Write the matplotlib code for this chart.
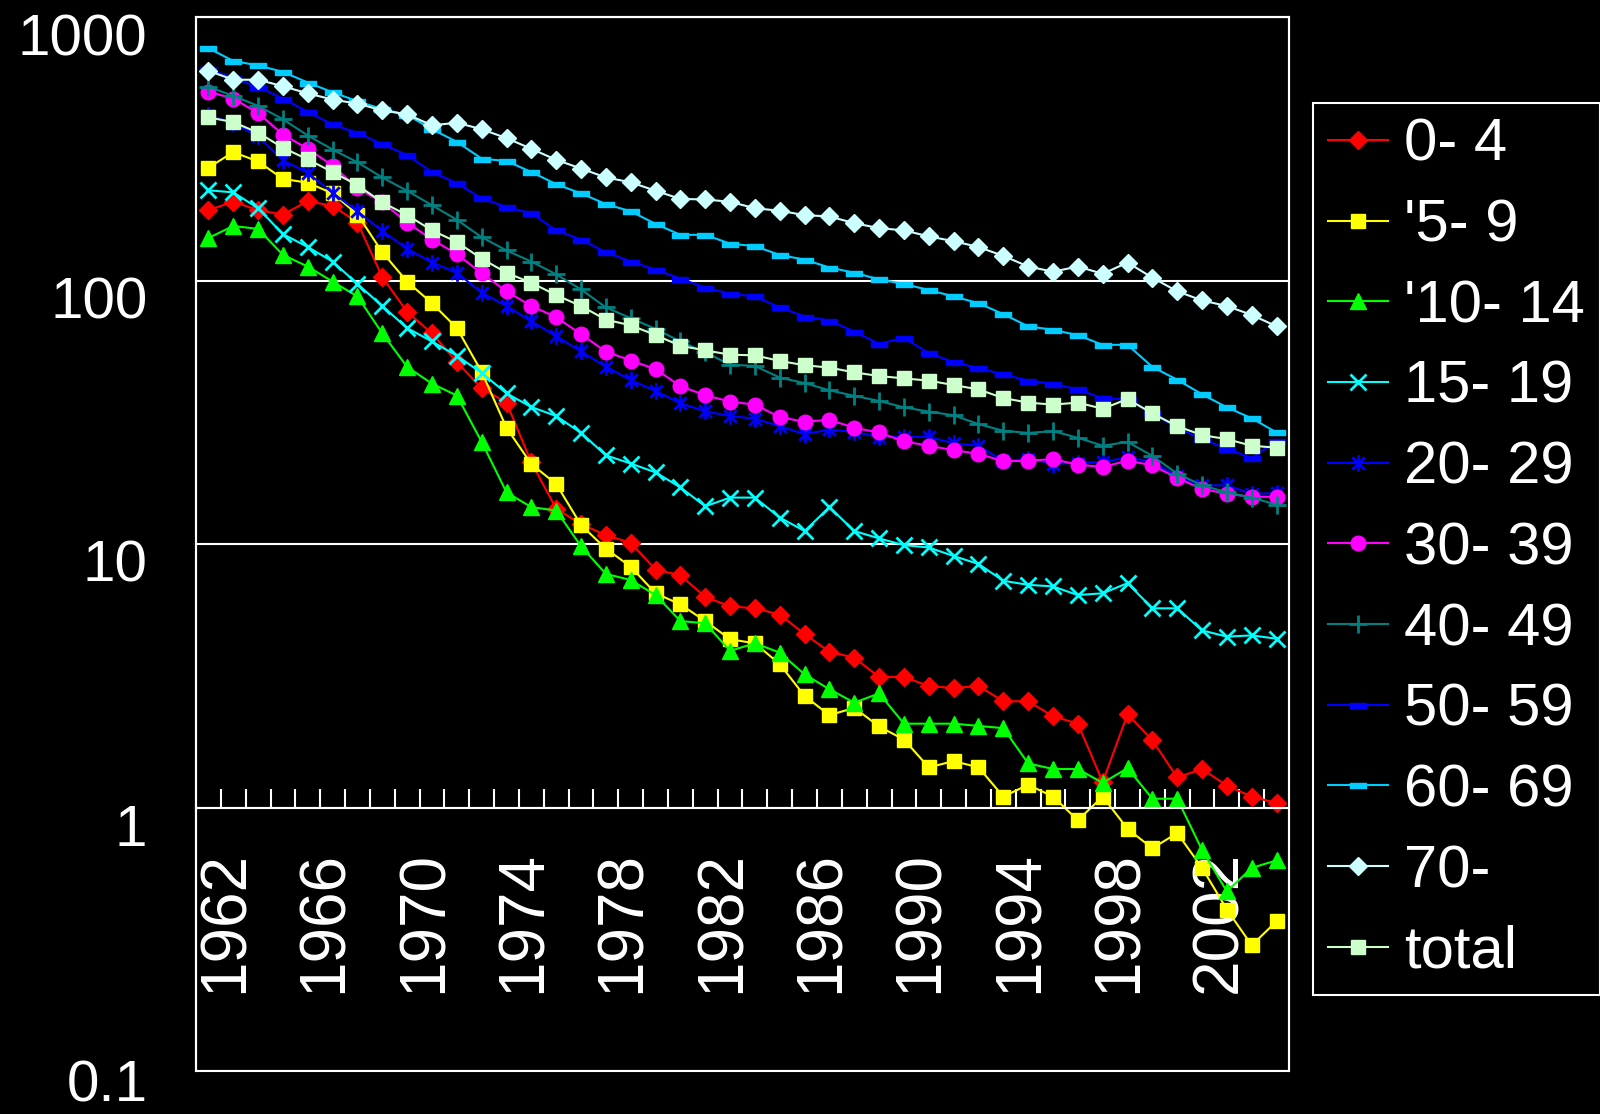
import matplotlib
matplotlib.use('Agg')
import numpy as np
import matplotlib.pyplot as plt
from matplotlib.path import Path
from matplotlib.patches import Rectangle
from matplotlib.ticker import NullLocator, NullFormatter
from matplotlib.transforms import ScaledTranslation

plt.rcParams['font.family'] = ['Liberation Sans', 'DejaVu Sans']

# data, one value per year
years = list(range(1962, 2006))

age_0_4 = [185, 199, 185, 178, 200, 192, 166, 103, 76, 63, 49, 39, 34.4, 20.4, 13.6,
           11.9, 10.8, 10.1, 8.0, 7.6, 6.3, 5.8, 5.7, 5.4, 4.55, 3.9, 3.7, 3.13, 3.13,
           2.89, 2.84, 2.89, 2.53, 2.53, 2.22, 2.08, 1.25, 2.26, 1.80, 1.30, 1.40, 1.21,
           1.10, 1.04]
age_5_9 = [268, 307, 283, 243, 235, 214, 178, 128, 99, 82, 66, 45, 27.6, 20.1, 16.9,
           11.8, 9.6, 8.2, 6.5, 5.9, 5.1, 4.35, 4.2, 3.5, 2.65, 2.24, 2.39, 2.03, 1.81,
           1.42, 1.5, 1.42, 1.10, 1.22, 1.10, 0.895, 1.10, 0.83, 0.70, 0.80, 0.59, 0.41,
           0.30, 0.37]
age_10_14 = [145, 161, 157, 125, 113, 99, 87, 63, 47, 40.6, 36.6, 24.4, 15.7, 13.8, 13.4,
             9.8, 7.7, 7.3, 6.4, 5.1, 5.0, 3.93, 4.2, 3.87, 3.2, 2.81, 2.5, 2.71, 2.08,
             2.08, 2.08, 2.04, 2.0, 1.47, 1.40, 1.40, 1.24, 1.41, 1.08, 1.08, 0.69, 0.48,
             0.59, 0.63]
age_15_19 = [220, 216, 188, 150, 134, 118, 97, 80, 66, 58.7, 51.8, 44.6, 37.3, 33.1, 30.6,
             26.4, 21.7, 20.2, 18.7, 16.4, 13.9, 15.0, 15.0, 12.6, 11.2, 13.8, 11.2, 10.5,
             9.9, 9.7, 9.0, 8.4, 7.25, 7.0, 6.9, 6.4, 6.5, 7.1, 5.7, 5.7, 4.7, 4.45, 4.5,
             4.37]
age_20_29 = [423, 397, 352, 286, 256, 215, 183, 154, 132, 117, 107, 90, 80, 70, 61.5,
             53.8, 47.1, 41.9, 38.1, 34.2, 31.9, 30.6, 29.9, 28, 26.1, 27.2, 26.6, 25.5,
             25.5, 25.5, 24.1, 23.6, 20.6, 21.1, 20.2, 20.3, 20.5, 21.3, 20.5, 18.1, 16.7,
             16.7, 15.5, 15.6]
age_30_39 = [521, 490, 432, 358, 316, 273, 224, 198, 166, 143, 126, 106.5, 91, 80, 72.6,
             62.5, 53.7, 49.7, 46.1, 39.7, 36.7, 34.7, 33.8, 30.3, 29.1, 29.6, 27.6, 26.5,
             24.5, 23.6, 22.7, 22, 20.6, 20.7, 21, 20, 19.6, 20.7, 19.9, 17.8, 16.2, 15.5,
             15.1, 15.1]
age_40_49 = [543, 502, 460, 409, 355, 314, 281, 246, 219, 193, 170, 146, 130, 118, 105.5,
             92.5, 79, 72, 65.5, 58.7, 53.4, 47.9, 47.4, 42.8, 40.8, 38.3, 36.5, 34.9, 33,
             31.8, 30.8, 28.5, 26.9, 26.4, 26.8, 25.3, 23.6, 24.4, 21.6, 18.5, 16.7, 15.7,
             15, 14.1]
age_50_59 = [635, 587, 543, 490, 436, 391, 363, 329, 299, 258, 234, 205, 190, 180, 155,
             143, 128, 118, 110, 101.6, 94, 89, 87, 79, 73, 70.5, 64, 57.5, 60.6, 53, 49,
             46.5, 44, 41.7, 40.5, 38.6, 35.7, 35.4, 31.3, 27.6, 25, 23, 21.2, 24.6]
age_60_69 = [762, 681, 655, 619, 564, 518, 479, 447, 425, 375, 336, 290, 284, 258, 232,
             214, 195, 183, 164, 149, 149, 138, 135, 125, 120, 112, 107, 101, 97, 92, 87,
             82, 74.5, 67, 65, 62, 57, 57, 47, 42, 37, 33, 30, 26.5]
age_70 = [625, 578, 578, 546, 513, 486, 469, 442, 427, 388, 397, 375, 347, 316, 287, 266,
          246, 236, 219, 204, 203, 199, 188, 184, 177, 175, 165, 158, 155, 147, 141, 134,
          124, 113, 108, 113, 106, 117, 102.5, 91, 84, 80, 74, 67]
total = [416, 399, 364, 319, 288, 258, 230, 198, 177, 155, 140, 121, 107, 98, 88, 80, 71,
         67.6, 62.1, 56.5, 54.3, 52.3, 52, 49.5, 47.7, 46.7, 44.8, 43.4, 42.5, 41.7, 40.1,
         38.6, 35.8, 34.4, 33.8, 34.4, 32.6, 35.5, 31.3, 28, 25.9, 25, 23.6, 23.2]

series = [age_0_4, age_5_9, age_10_14, age_15_19, age_20_29, age_30_39,
          age_40_49, age_50_59, age_60_69, age_70, total]
labels = ['0- 4', "'5- 9", "'10- 14", '15- 19', '20- 29', '30- 39',
          '40- 49', '50- 59', '60- 69', '70-', 'total']
colors = ['#FF0000', '#FFFF00', '#00FF00', '#00FFFF', '#0000FF', '#FF00FF',
          '#008080', '#0000FF', '#00CCFF', '#CCFFFF', '#CCFFCC']

# excel style asterisk and dash markers
asterisk = Path([(0, -1), (0, 1), (-0.75, -0.75), (0.75, 0.75), (-0.75, 0.75), (0.75, -0.75)],
                [Path.MOVETO, Path.LINETO] * 3)
dash = Path([(-1, -0.3), (1, -0.3), (1, 0.3), (-1, 0.3), (-1, -0.3)],
            [Path.MOVETO, Path.LINETO, Path.LINETO, Path.LINETO, Path.CLOSEPOLY])

markers = ['D', 's', '^', 'x', asterisk, 'o', '+', dash, dash, 'D', 's']
msizes = [9, 10.5, 11, 11, 12, 10.5, 13, 12, 12, 9, 10.5]
mews = [1, 1, 1, 2, 2, 1, 2, 1, 1, 1, 1]

fig = plt.figure(figsize=(16, 11.14), dpi=100, facecolor='black')
ax = fig.add_axes([196 / 1600, 1 - 1071 / 1114, (1289 - 196) / 1600, (1071 - 17) / 1114])
ax.set_facecolor('black')

for vals, lab, c, m, ms, mew in zip(series, labels, colors, markers, msizes, mews):
    ax.plot(years, vals, color=c, lw=1.5, marker=m, markersize=ms,
            markerfacecolor=c, markeredgecolor=c, markeredgewidth=mew, label=lab)

ax.set_yscale('log')
ax.set_ylim(0.1, 1000)
ax.set_xlim(1961.5, 2005.5)

# y axis
ax.set_yticks([0.1, 1, 10, 100, 1000])
ax.set_yticklabels(['0.1', '1', '10', '100', '1000'])
ax.yaxis.set_minor_locator(NullLocator())
ax.tick_params(axis='y', length=0, pad=35, labelsize=42, labelcolor='white')
ax.grid(axis='y', color='white', lw=1.5)
ax.set_axisbelow(True)

# x axis crosses at 1, ticks between categories
ax.set_xticks(np.arange(1962.5, 2005, 1))
ax.xaxis.set_major_formatter(NullFormatter())
ax.set_xticks(years[::4], minor=True)
ax.set_xticklabels([str(y) for y in years[::4]], minor=True)
ax.tick_params(axis='x', which='major', direction='in', length=13.7, width=1.5, color='white')
ax.tick_params(axis='x', which='minor', length=0, pad=31, labelsize=46,
               labelcolor='white', labelrotation=90)

ax.spines['bottom'].set_position(('data', 1))
for sp in ax.spines.values():
    sp.set_color('white')
    sp.set_linewidth(1.5)
ax.add_patch(Rectangle((0, 0), 1, 1, transform=ax.transAxes, fill=False,
                       ec='white', lw=1.5, clip_on=False, zorder=5))

for t in ax.get_yticklabels():
    dy = -0.10 if t.get_text() == '0.1' else -0.17
    t.set_transform(t.get_transform() + ScaledTranslation(0, dy, fig.dpi_scale_trans))
for t in ax.get_xticklabels(minor=True):
    t.set_transform(t.get_transform() + ScaledTranslation(0.17, 0, fig.dpi_scale_trans))

leg = ax.legend(loc='upper left', bbox_to_anchor=(1313 / 1600, 1 - 103 / 1114),
                bbox_transform=fig.transFigure, fontsize=43, fancybox=False,
                facecolor='black', edgecolor='white', labelcolor='white',
                handlelength=1.0, handletextpad=0.27, labelspacing=0.43,
                borderpad=0.25, borderaxespad=0, framealpha=1)
leg.get_frame().set_linewidth(1.5)

fig.savefig('out.png', dpi=100, facecolor='black')
